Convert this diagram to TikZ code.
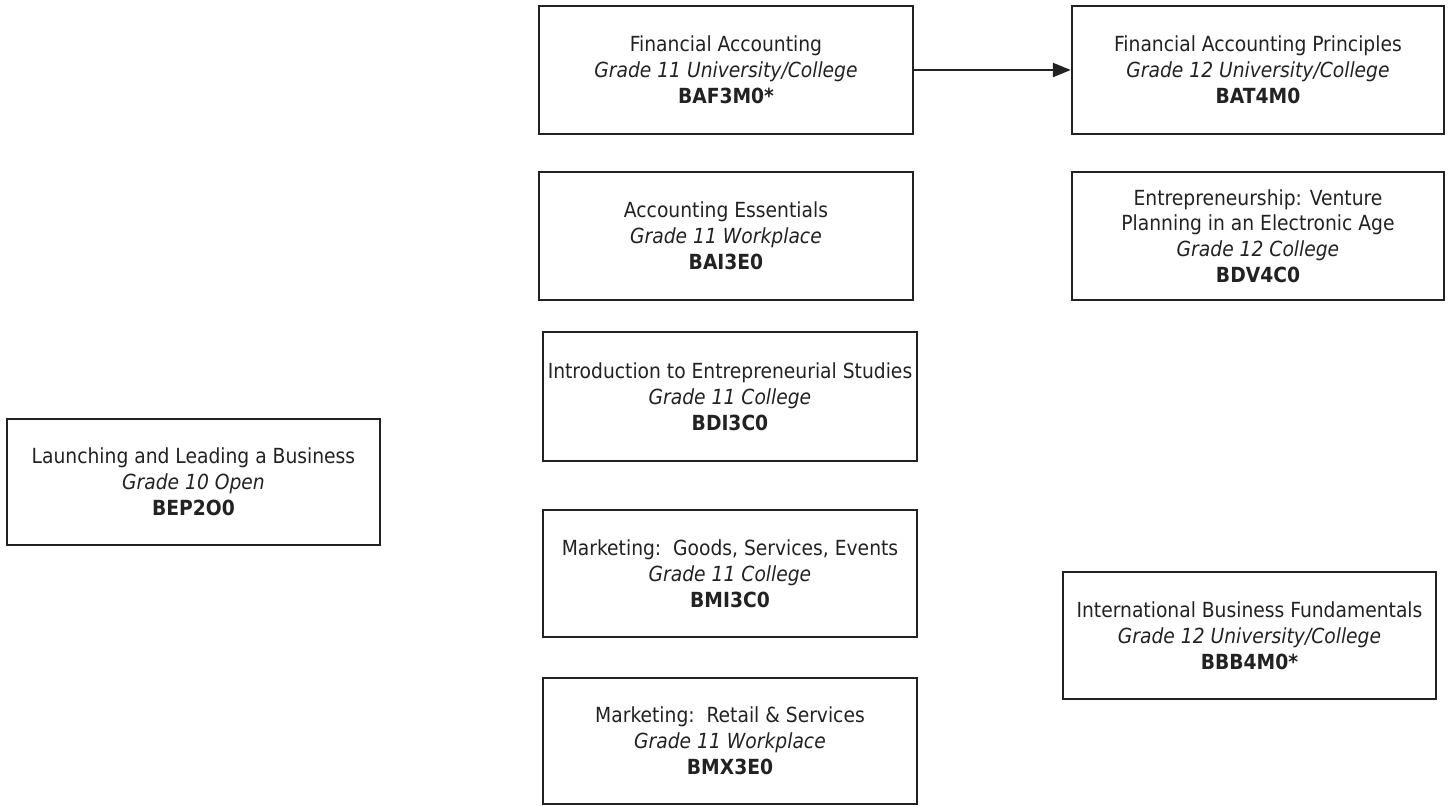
\documentclass[tikz,border=0pt]{standalone}
\usepackage{fontspec}
\setmainfont{DejaVu Sans Condensed}[BoldFont={DejaVu Sans Condensed Bold},ItalicFont={DejaVu Sans Condensed Oblique}]
\usetikzlibrary{arrows.meta}
\definecolor{ink}{HTML}{222222}
\begin{document}
\begin{tikzpicture}[x=1pt,y=-1pt,
  course/.style={draw=ink, line width=2.4pt, text=ink, inner sep=0pt,
    minimum width=374pt, minimum height=128pt, align=center,
    font=\fontsize{20.8}{25.8}\selectfont},
  link/.style={draw=ink, line width=2.4pt, -{Triangle[length=18pt,width=14pt]}}]
\useasboundingbox (0,0) rectangle (1449,806);

\node[course] (fa) at (726,70) {Financial Accounting\\\textit{Grade 11 University/College}\\\textbf{BAF3M0*}};
\node[course, minimum width=372pt] (fap) at (1258,70) {Financial Accounting Principles\\\textit{Grade 12 University/College}\\\textbf{BAT4M0}};
\node[course] (ae) at (726,236) {Accounting Essentials\\\textit{Grade 11 Workplace}\\\textbf{BAI3E0}};
\node[course, minimum width=372pt] (ent) at (1258,236) {Entrepreneurship: Venture\\Planning in an Electronic Age\\\textit{Grade 12 College}\\\textbf{BDV4C0}};
\node[course, minimum height=129pt] (ies) at (730,396.5) {\makebox[366pt]{Introduction to Entrepreneurial Studies}\\\textit{Grade 11 College}\\\textbf{BDI3C0}};
\node[course, minimum width=373pt, minimum height=126pt] (lab) at (193.5,482) {Launching and Leading a Business\\\textit{Grade 10 Open}\\\textbf{BEP2O0}};
\node[course, minimum height=127pt] (mgs) at (730,573.5) {Marketing:\ \ Goods, Services, Events\\\textit{Grade 11 College}\\\textbf{BMI3C0}};
\node[course, minimum height=126pt] (mrs) at (730,741) {Marketing:\ \ Retail \& Services\\\textit{Grade 11 Workplace}\\\textbf{BMX3E0}};
\node[course, minimum width=373pt, minimum height=127pt] (ibf) at (1249.5,635.5) {International Business Fundamentals\\\textit{Grade 12 University/College}\\\textbf{BBB4M0*}};

\draw[link] (fa.east) -- (fap.west);
\end{tikzpicture}
\end{document}
